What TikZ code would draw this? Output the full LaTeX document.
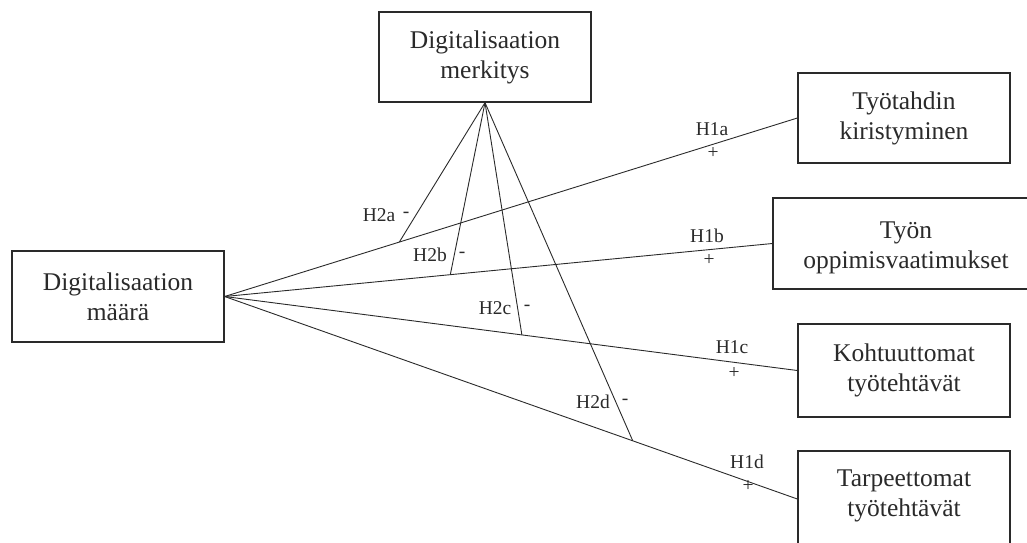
\documentclass[tikz,border=0pt]{standalone}
\usepackage{fontspec}
\setmainfont{Liberation Serif}
\usetikzlibrary{calc}
\definecolor{ink}{HTML}{2A2A2A}
\begin{document}
\begin{tikzpicture}[x=1pt,y=-1pt,
  box/.style={draw=ink,line width=1.3pt,fill=white,rectangle,align=center,inner sep=0pt,
    font=\fontsize{25.5}{30}\selectfont,text=ink},
  conn/.style={draw=ink,line width=0.9pt},
  lab/.style={inner sep=0pt,font=\fontsize{19.5}{22}\selectfont,text=ink}]
\useasboundingbox (0,0) rectangle (1027,542);
\clip (0,0) rectangle (1027,542);
% boxes
\node[box,minimum width=212pt,minimum height=90pt] (merk) at (485,57) {Digitalisaation\\merkitys};
\node[box,minimum width=212pt,minimum height=91pt] (maara) at (118,296.5) {Digitalisaation\\määrä};
\node[box,minimum width=212pt,minimum height=90pt] (tyot) at (904,118) {Työtahdin\\kiristyminen};
\node[box,minimum width=267pt,minimum height=91pt] (tyon) at (906.5,243.5) {};
\node[align=center,font=\fontsize{25.5}{30}\selectfont,text=ink,inner sep=0pt] (tyontext) at (906,248) {Työn\\oppimisvaatimukset};
\node[box,minimum width=212pt,minimum height=93pt] (kohtu) at (904,370.5) {Kohtuuttomat\\työtehtävät};
\node[box,minimum width=212pt,minimum height=96pt] (tarp) at (904,499) {};
\node[align=center,font=\fontsize{25.5}{30}\selectfont,text=ink,inner sep=0pt] (tarptext) at (904,496) {Tarpeettomat\\työtehtävät};
% main paths
\draw[conn] (maara.east) -- (tyot.west);
\draw[conn] (maara.east) -- (tyon.west);
\draw[conn] (maara.east) -- (kohtu.west);
\draw[conn] (maara.east) -- (tarp.west);
% moderation points
\coordinate (pa) at ($(maara.east)!0.305!(tyot.west)$);
\coordinate (pb) at ($(maara.east)!0.412!(tyon.west)$);
\coordinate (pc) at ($(maara.east)!0.519!(kohtu.west)$);
\coordinate (pd) at ($(maara.east)!0.7126!(tarp.west)$);
\draw[conn] (merk.south) -- (pa);
\draw[conn] (merk.south) -- (pb);
\draw[conn] (merk.south) -- (pc);
\draw[conn] (merk.south) -- (pd);
% labels
\node[lab] (h2a) at (379,215) {H2a};
\node[lab] (h2am) at (406,215) {-};
\node[lab] (h2b) at (430,255) {H2b};
\node[lab] (h2bm) at (462,255) {-};
\node[lab] (h2c) at (495,308) {H2c};
\node[lab] (h2cm) at (527,308) {-};
\node[lab] (h2d) at (593,402) {H2d};
\node[lab] (h2dm) at (625,402) {-};
\node[lab] (h1a) at (712,129) {H1a};
\node[lab] (h1ap) at (713,153) {+};
\node[lab] (h1b) at (707,236) {H1b};
\node[lab] (h1bp) at (709,260) {+};
\node[lab] (h1c) at (732,347) {H1c};
\node[lab] (h1cp) at (734,373) {+};
\node[lab] (h1d) at (747,462) {H1d};
\node[lab] (h1dp) at (748,486) {+};
\end{tikzpicture}
\end{document}
